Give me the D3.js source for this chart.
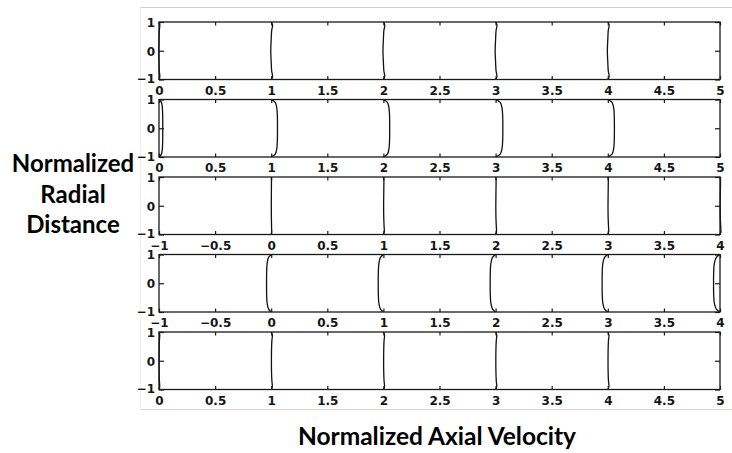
<!DOCTYPE html>
<html>
<head>
<meta charset="utf-8">
<script src="https://cdn.jsdelivr.net/npm/d3@7"></script>
<style>
  html, body { margin: 0; padding: 0; background: #fff; }
  svg { display: block; }
</style>
</head>
<body>
<svg id="chart" width="732" height="453"></svg>
<script>
// ---------- data ----------
const panelDomains = [[0, 5], [0, 5], [-1, 4], [-1, 4], [0, 5]];
const xTickValues = [
  [0, 0.5, 1, 1.5, 2, 2.5, 3, 3.5, 4, 4.5, 5],
  [0, 0.5, 1, 1.5, 2, 2.5, 3, 3.5, 4, 4.5, 5],
  [-1, -0.5, 0, 0.5, 1, 1.5, 2, 2.5, 3, 3.5, 4],
  [-1, -0.5, 0, 0.5, 1, 1.5, 2, 2.5, 3, 3.5, 4],
  [0, 0.5, 1, 1.5, 2, 2.5, 3, 3.5, 4, 4.5, 5]
];
const yTickValues = [-1, 0, 1];
const profileY = [1, 0.9, 0.7, 0.4, 0, -0.4, -0.7, -0.9, -1];
// profile deviation (velocity offset) from station value, per panel
const profileShape1 = [0, 0.012, 0.004, 0, -0.004, 0, 0.004, 0.012, 0];
const profileShape2 = [0, 0.036, 0.05, 0.055, 0.056, 0.055, 0.05, 0.036, 0];
const profileShape3 = [0, 0.004, 0.004, 0.003, 0.002, 0.003, 0.006, 0.008, 0];
const profileShape4 = [0, -0.026, -0.04, -0.045, -0.046, -0.045, -0.04, -0.026, 0];
const profileShape5 = [0, 0.01, 0.006, 0.003, 0.002, 0.003, 0.006, 0.01, 0];
const stations1 = [0, 1, 2, 3, 4];
const stations2 = [0, 1, 2, 3, 4];
const stations3 = [0, 1, 2, 3, 4];
const stations4 = [0, 1, 2, 3, 4];
const stations5 = [0, 1, 2, 3, 4];
const amplitude1 = [0.6, 1, 1, 1, 1];
const amplitude2 = [0.6, 1, 1, 1.15, 1.05];
const amplitude3 = [0.5, 1, 1, 1, 1];
const amplitude4 = [0.9, 1, 1.05, 1.1, 1.25];
const amplitude5 = [0.6, 1, 1, 1, 1];
const yTitleLines = ["Normalized", "Radial", "Distance"];
const xTitle = "Normalized Axial Velocity";

const shapes = [profileShape1, profileShape2, profileShape3, profileShape4, profileShape5];
const stations = [stations1, stations2, stations3, stations4, stations5];
const amps = [amplitude1, amplitude2, amplitude3, amplitude4, amplitude5];

// ---------- layout ----------
const svg = d3.select("#chart");
const left = 159, right = 720;
const panelTop0 = 22, panelStep = 77.5, panelH = 57.5;
const tickFont = "'DejaVu Sans', sans-serif";

// frame lines of the embedded figure
svg.append("line").attr("x1", 140).attr("x2", 732).attr("y1", 7.5).attr("y2", 7.5)
  .attr("stroke", "#d0d0d0").attr("stroke-width", 1);
svg.append("line").attr("x1", 140).attr("x2", 732).attr("y1", 409.5).attr("y2", 409.5)
  .attr("stroke", "#d8d8d8").attr("stroke-width", 1);
svg.append("line").attr("x1", 140.5).attr("x2", 140.5).attr("y1", 7.5).attr("y2", 409.5)
  .attr("stroke", "#f0f0f0").attr("stroke-width", 1);

const fmt = v => (v < 0 ? "\u2212" : "") + Math.abs(v);

panelDomains.forEach((dom, i) => {
  const top = panelTop0 + i * panelStep;
  const bottom = top + panelH;
  const x = d3.scaleLinear().domain(dom).range([left, right]);
  const y = d3.scaleLinear().domain([-1, 1]).range([bottom, top]);
  const g = svg.append("g");

  // profiles
  const line = d3.line()
    .x(d => x(d[0]))
    .y(d => y(d[1]))
    .curve(d3.curveCatmullRom.alpha(0.5));
  stations[i].forEach((s, k) => {
    const pts = profileY.map((py, j) => [s + shapes[i][j] * amps[i][k], py]);
    g.append("path").attr("d", line(pts))
      .attr("fill", "none").attr("stroke", "#111").attr("stroke-width", 1.3);
  });

  // box
  g.append("rect").attr("x", left).attr("y", top)
    .attr("width", right - left).attr("height", panelH)
    .attr("fill", "none").attr("stroke", "#1a1a1a").attr("stroke-width", 1.3);

  // bottom axis (ticks inward, labels below)
  const xb = g.append("g").attr("transform", `translate(0,${bottom})`)
    .call(d3.axisBottom(x).tickValues(xTickValues[i]).tickSizeInner(-3.5).tickSizeOuter(0)
      .tickPadding(0).tickFormat(fmt));
  xb.select(".domain").remove();
  xb.selectAll(".tick line").attr("stroke", "#1a1a1a").attr("stroke-width", 1.2);
  xb.selectAll(".tick text").attr("y", 15).attr("dy", 0)
    .attr("font-family", tickFont).attr("font-weight", "bold").attr("font-size", 12)
    .attr("fill", "#151515");

  // top ticks
  const xt = g.append("g").attr("transform", `translate(0,${top})`)
    .call(d3.axisTop(x).tickValues(xTickValues[i]).tickSizeInner(-3.5).tickSizeOuter(0).tickFormat(""));
  xt.select(".domain").remove();
  xt.selectAll(".tick line").attr("stroke", "#1a1a1a").attr("stroke-width", 1.2);

  // left axis
  const yl = g.append("g").attr("transform", `translate(${left},0)`)
    .call(d3.axisLeft(y).tickValues(yTickValues).tickSizeInner(-5).tickSizeOuter(0)
      .tickPadding(0).tickFormat(fmt));
  yl.select(".domain").remove();
  yl.selectAll(".tick line").attr("stroke", "#1a1a1a").attr("stroke-width", 1.2);
  yl.selectAll(".tick text").attr("x", -4).attr("dy", d => d === -1 ? "0.25em" : "0.36em")
    .attr("font-family", tickFont).attr("font-weight", "bold").attr("font-size", 12)
    .attr("fill", "#151515");

  // right ticks
  const yr = g.append("g").attr("transform", `translate(${right},0)`)
    .call(d3.axisRight(y).tickValues(yTickValues).tickSizeInner(-5).tickSizeOuter(0).tickFormat(""));
  yr.select(".domain").remove();
  yr.selectAll(".tick line").attr("stroke", "#1a1a1a").attr("stroke-width", 1.2);
});

// titles
const titleFont = "Lato, 'Open Sans', sans-serif";
const yt = svg.append("text").attr("text-anchor", "middle")
  .attr("font-family", titleFont).attr("font-weight", "bold").attr("font-size", 24)
  .attr("fill", "#000");
[172, 203, 233].forEach((by, k) => {
  yt.append("tspan").attr("x", 73).attr("y", by).text(yTitleLines[k]);
});
svg.append("text").attr("x", 437).attr("y", 445).attr("text-anchor", "middle")
  .attr("font-family", titleFont).attr("font-weight", "bold").attr("font-size", 24.5)
  .attr("fill", "#000").text(xTitle);
</script>
</body>
</html>
